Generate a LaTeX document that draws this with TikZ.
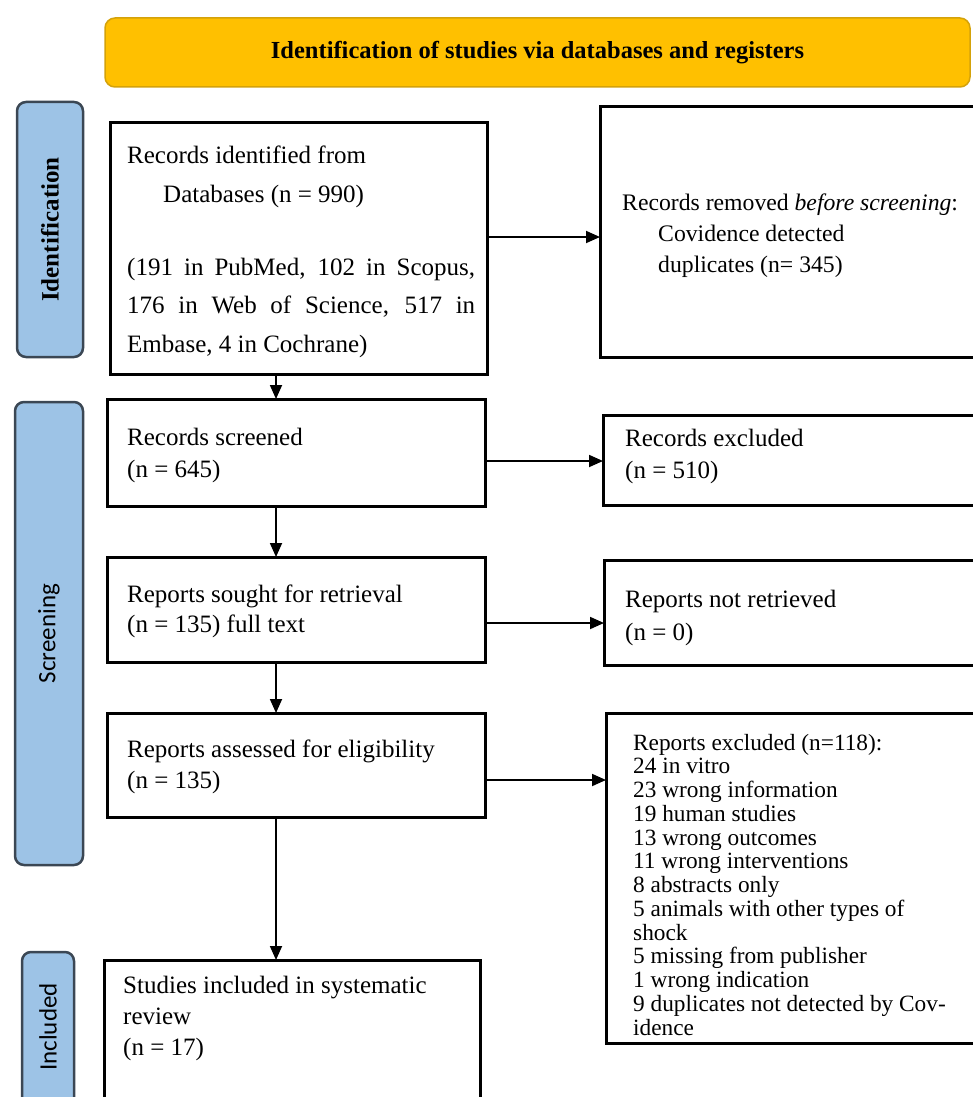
\documentclass[tikz,border=0pt]{standalone}
\usepackage{fontspec}
\setmainfont{Liberation Serif}
\newfontfamily\tabfont{Carlito}
\usetikzlibrary{arrows.meta}
\definecolor{banneryellow}{HTML}{FFC000}
\definecolor{bannerborder}{HTML}{D4A20A}
\definecolor{tabblue}{HTML}{9DC3E6}
\definecolor{tabborder}{HTML}{3B4754}
\begin{document}
\begin{tikzpicture}[x=1pt,y=-1pt,
  box/.style={draw=black, line width=3pt, anchor=north west, inner sep=0pt, outer sep=0pt},
  tabbox/.style={draw=tabborder, fill=tabblue, line width=2.5pt, rounded corners=9pt, anchor=north west, inner sep=0pt, outer sep=0pt},
  txt/.style={anchor=base west, inner sep=0pt, font=\fontsize{25}{30}\selectfont},
  remtxt/.style={anchor=base west, inner sep=0pt, font=\fontsize{23.7}{28}\selectfont},
  small/.style={anchor=base west, inner sep=0pt, font=\fontsize{23.3}{24}\selectfont},
  tabtxt/.style={rotate=90, inner sep=0pt, font=\tabfont\fontsize{25}{28}\selectfont},
  flow/.style={line width=1.8pt, -{Triangle[length=14pt,width=12pt]}},
]
\useasboundingbox (0,0) rectangle (973,1097);

% banner
\node[draw=bannerborder, fill=banneryellow, rounded corners=10pt, line width=1.5pt,
      minimum width=865pt, minimum height=69pt, anchor=north west, outer sep=0pt,
      font=\bfseries\fontsize{24.5}{28}\selectfont] (banner) at (105,18)
      {Identification of studies via databases and registers};

% side tabs
\node[tabbox, minimum width=66pt, minimum height=255pt] (tabid) at (17,102) {};
\node[rotate=90, inner sep=0pt, font=\bfseries\fontsize{25}{28}\selectfont] (tabidtxt) at (tabid.center) {Identification};
\node[tabbox, minimum width=68pt, minimum height=463pt] (tabsc) at (15,402) {};
\node[tabtxt] (tabsctxt) at (tabsc.center) {Screening};
\node[tabbox, minimum width=52pt, minimum height=175pt] (tabin) at (22,952) {};
\node[tabtxt] (tabintxt) at (48,1027) {Included};

% boxes
\node[box, minimum width=377pt, minimum height=251pt] (idb) at (110,123) {};
\node[box, minimum width=390pt, minimum height=250pt] (rem) at (600,107) {};
\node[box, minimum width=378pt, minimum height=107pt] (scr) at (107,399) {};
\node[box, minimum width=390pt, minimum height=90pt] (exc) at (603,415) {};
\node[box, minimum width=378pt, minimum height=105pt] (sou) at (107,557) {};
\node[box, minimum width=390pt, minimum height=105pt] (nre) at (604,560) {};
\node[box, minimum width=378pt, minimum height=104pt] (ass) at (107,713) {};
\node[box, minimum width=390pt, minimum height=330pt] (rex) at (606,713) {};
\node[box, minimum width=376pt, minimum height=170pt] (inc) at (104,960) {};

% texts
\node[txt] (idb1) at (127,163) {Records identified from};
\node[txt] (idb2) at (163,202) {Databases (n = 990)};
\node[txt] (idb3) at (127,275) {\makebox[348pt][s]{(191 in PubMed, 102 in Scopus,}};
\node[txt] (idb4) at (127,313) {\makebox[348pt][s]{176 in Web of Science, 517 in}};
\node[txt] (idb5) at (127,352) {Embase, 4 in Cochrane)};

\node[remtxt] (rem1) at (622,210) {Records removed \textit{before screening}:};
\node[remtxt] (rem2) at (658,241) {Covidence detected};
\node[remtxt] (rem3) at (658,272) {duplicates (n= 345)};

\node[txt] (scr1) at (127,445) {Records screened};
\node[txt] (scr2) at (127,477) {(n = 645)};
\node[txt] (exc1) at (625,446) {Records excluded};
\node[txt] (exc2) at (625,478) {(n = 510)};

\node[txt] (sou1) at (127,602) {Reports sought for retrieval};
\node[txt] (sou2) at (127,632) {(n = 135) full text};
\node[txt] (nre1) at (625,607) {Reports not retrieved};
\node[txt] (nre2) at (625,640) {(n = 0)};

\node[txt] (ass1) at (127,757) {Reports assessed for eligibility};
\node[txt] (ass2) at (127,788) {(n = 135)};

\foreach \t [count=\i] in {Reports excluded (n=118):, 24 in vitro, 23 wrong information,
  19 human studies, 13 wrong outcomes, 11 wrong interventions, 8 abstracts only,
  5 animals with other types of, shock, 5 missing from publisher, 1 wrong indication,
  9 duplicates not detected by Cov-, idence}
  \node[small] (rex\i) at (633,{750+23.75*(\i-1)}) {\t};

\node[txt] (inc1) at (123,993) {Studies included in systematic};
\node[txt] (inc2) at (123,1024) {review};
\node[txt] (inc3) at (123,1055) {(n = 17)};

% connectors
\coordinate (ax) at (276,0);
\draw[flow] (idb.south -| ax) -- (scr.north -| ax);
\draw[flow] (scr.south -| ax) -- (sou.north -| ax);
\draw[flow] (sou.south -| ax) -- (ass.north -| ax);
\draw[flow] (ass.south -| ax) -- (inc.north -| ax);

\coordinate (h1) at (0,237);
\coordinate (h2) at (0,461);
\coordinate (h3) at (0,623);
\coordinate (h4) at (0,780);
\draw[flow] (idb.east |- h1) -- (rem.west |- h1);
\draw[flow] (scr.east |- h2) -- (exc.west |- h2);
\draw[flow] (sou.east |- h3) -- (nre.west |- h3);
\draw[flow] (ass.east |- h4) -- (rex.west |- h4);
\end{tikzpicture}
\end{document}
